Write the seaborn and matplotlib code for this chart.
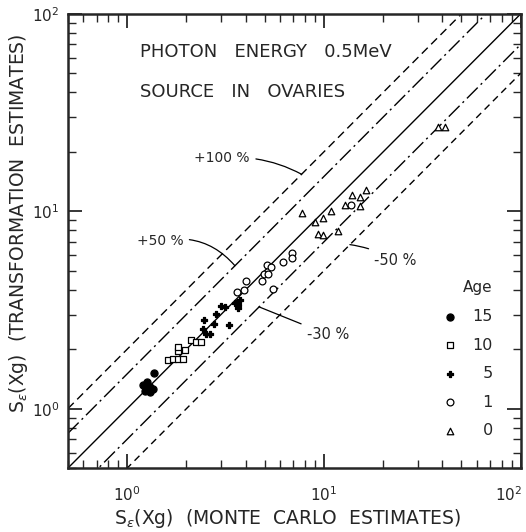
import numpy as np
import pandas as pd
import matplotlib
matplotlib.use('Agg')
import matplotlib.pyplot as plt
import seaborn as sns
from matplotlib.ticker import LogLocator, NullFormatter
from matplotlib.transforms import ScaledTranslation

# Monte Carlo estimates (x) vs transformation estimates (y), by phantom age
age15_x = [1.21, 1.26, 1.31, 1.23, 1.31, 1.36, 1.37]
age15_y = [1.32, 1.37, 1.29, 1.23, 1.21, 1.26, 1.51]

age10_x = [1.61, 1.71, 1.81, 1.92, 1.81, 1.81, 1.97, 2.11, 2.24, 2.37]
age10_y = [1.77, 1.79, 1.79, 1.79, 1.95, 2.06, 1.99, 2.24, 2.19, 2.19]

age5_x = [2.46, 2.77, 2.83, 3.00, 3.14, 3.29, 3.66, 3.75, 2.43, 2.52, 2.64, 3.53, 3.66]
age5_y = [2.83, 2.70, 3.03, 3.33, 3.29, 2.67, 3.37, 3.57, 2.52, 2.40, 2.40, 3.45, 3.22]

age1_x = [3.62, 3.92, 4.02, 4.84, 4.96, 5.20, 5.14, 5.38, 5.51, 6.19, 6.88, 6.88, 13.7]
age1_y = [3.88, 3.97, 4.41, 4.46, 4.79, 4.84, 5.32, 5.20, 4.02, 5.51, 6.12, 5.77, 10.7]

age0_x = [7.73, 9.0, 9.9, 10.9, 9.3, 9.9, 11.8, 12.8, 15.2, 13.9, 15.2, 16.3, 37.9, 41.1]
age0_y = [9.77, 8.8, 9.3, 10.0, 7.7, 7.55, 7.9, 10.7, 10.6, 12.1, 11.8, 12.8, 26.7, 26.7]

# reference lines y = ratio * x
ref_ratios = [2.0, 1.5, 1.0, 0.7, 0.5]
ref_styles = [(0, (6, 3.5)), (0, (11, 3, 1.5, 3)), '-', (0, (11, 3, 1.5, 3)), (0, (5, 3.5))]

ages = ['15', '10', '5', '1', '0']
frames = []
for age, xs, ys in zip(ages,
                       [age15_x, age10_x, age5_x, age1_x, age0_x],
                       [age15_y, age10_y, age5_y, age1_y, age0_y]):
    frames.append(pd.DataFrame({'mc': xs, 'tr': ys, 'age': age}))
data = pd.concat(frames, ignore_index=True)

sns.set_style('ticks')
plt.rcParams['font.family'] = ['DejaVu Sans']

fig = plt.figure(figsize=(5.26, 5.32), dpi=100)
ax = fig.add_axes([0.129, 0.120, 0.861, 0.854])
ax.set_xscale('log')
ax.set_yscale('log')

x_line = np.array([0.5, 100.0])
for r, ls in zip(ref_ratios, ref_styles):
    sns.lineplot(x=x_line, y=r * x_line, color='black', linewidth=1.0,
                 linestyle=ls, ax=ax)

markers = {'15': 'o', '10': 's', '5': 'P', '1': 'o', '0': '^'}
filled = {'15': True, '10': False, '5': True, '1': False, '0': False}
sizes = {'15': 26, '10': 17, '5': 22, '1': 24, '0': 22}
handles = []
for age in ages:
    sub = data[data['age'] == age]
    sns.scatterplot(data=sub, x='mc', y='tr', marker=markers[age], s=sizes[age],
                    facecolors='black' if filled[age] else 'white',
                    edgecolor='black', linewidth=0.9, legend=False, ax=ax,
                    zorder=3)
    handles.append(ax.collections[-1])

ax.set_xlim(0.5, 100)
ax.set_ylim(0.5, 100)

for axis in (ax.xaxis, ax.yaxis):
    axis.set_major_locator(LogLocator(base=10))
    axis.set_minor_locator(LogLocator(base=10, subs=np.arange(2, 10)))
    axis.set_minor_formatter(NullFormatter())
ax.tick_params(which='both', direction='in', top=True, right=True,
               labelsize=11)
ax.tick_params(axis='x', pad=12)
ax.tick_params(axis='y', pad=6)
ax.tick_params(which='major', length=10, width=1.3)
ax.tick_params(which='minor', length=6, width=1.0)
for sp in ax.spines.values():
    sp.set_linewidth(1.8)

ax.set_xlabel(r'S$_{\epsilon}$(Xg)  (MONTE  CARLO  ESTIMATES)', fontsize=13.5)
ax.set_ylabel(r'S$_{\epsilon}$(Xg)  (TRANSFORMATION  ESTIMATES)', fontsize=13.5)
ax.xaxis.set_label_coords(0.485, -0.085)
ax.yaxis.set_label_coords(-0.083, 0.54)

ax.text(0.159, 0.916, 'PHOTON   ENERGY   0.5MeV', transform=ax.transAxes,
        fontsize=13, va='center', ha='left')
ax.text(0.159, 0.828, 'SOURCE   IN   OVARIES', transform=ax.transAxes,
        fontsize=13, va='center', ha='left')

lead = dict(arrowstyle='-', color='black', lw=0.9, shrinkA=2, shrinkB=0)
ax.annotate('+100 %', xy=(7.7, 15.4), xytext=(3.04, 18.6), fontsize=10,
            ha='center', va='center',
            arrowprops=dict(lead, connectionstyle='arc3,rad=-0.15'))
ax.annotate('+50 %', xy=(3.53, 5.3), xytext=(1.47, 7.04), fontsize=10,
            ha='center', va='center',
            arrowprops=dict(lead, connectionstyle='arc3,rad=-0.3'))
ax.annotate('-50 %', xy=(13.55, 6.78), xytext=(22.9, 5.64), fontsize=10.5,
            ha='center', va='center',
            arrowprops=dict(lead, connectionstyle='arc3,rad=0.1'))
ax.annotate('-30 %', xy=(4.68, 3.28), xytext=(10.5, 2.37), fontsize=10.5,
            ha='center', va='center',
            arrowprops=dict(lead, connectionstyle='arc3,rad=0.0'))

labels = ['15', '10', '\u20075', '\u20071', '\u20070']
leg = ax.legend(handles, labels, title='Age', loc='upper left',
                bbox_to_anchor=(0.795, 0.445), frameon=False, fontsize=11.5,
                title_fontsize=11, labelspacing=0.85, handletextpad=0.9,
                handlelength=1.0, alignment='right')

# nudge the last x tick label so it stays inside the figure
fig.canvas.draw()
for t in ax.xaxis.get_major_ticks():
    if np.isclose(t.get_loc(), 100):
        t.label1.set_transform(t.label1.get_transform() +
                               ScaledTranslation(-9 / 72, 0, fig.dpi_scale_trans))

fig.savefig('out.png', dpi=100)
